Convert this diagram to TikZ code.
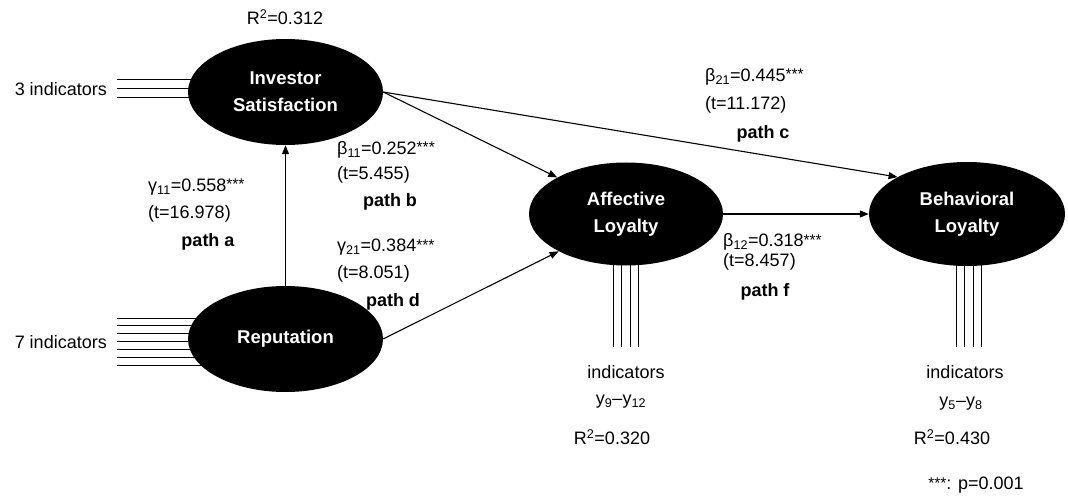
\documentclass[tikz,border=0pt]{standalone}
\usepackage{fontspec}
\setmainfont{Liberation Sans}
\usetikzlibrary{shapes.geometric,arrows.meta,backgrounds}
\newcommand\mystars{\raisebox{1.5pt}{\fontsize{15.5}{15.5}\selectfont ***}}
\begin{document}
\begin{tikzpicture}[x=1pt,y=-1pt,
  lv/.style={ellipse, fill=black, inner sep=0pt, text=white, font=\fontsize{18.5}{27}\selectfont\bfseries, align=center},
  lbl/.style={inner sep=0pt, font=\fontsize{18}{22}\selectfont},
  pth/.style={inner sep=0pt, font=\fontsize{18}{22}\selectfont\bfseries},
  arr/.style={-{Triangle[length=9pt,width=7pt]}, line width=1.1pt},
  ind/.style={line width=0.9pt}]
\useasboundingbox (0,0) rectangle (1068,497);

% latent variables
\node[lv, minimum width=195pt, minimum height=106pt] (IS) at (285.5,92) {Investor\\Satisfaction};
\node[lv, minimum width=195pt, minimum height=106pt] (REP) at (285.5,339) {Reputation};
\node[lv, minimum width=194pt, minimum height=103pt] (AL) at (626,214) {Affective\\Loyalty};
\node[lv, minimum width=196pt, minimum height=104pt] (BL) at (967,214) {Behavioral\\Loyalty};

% indicator lines
\begin{scope}[on background layer]
\foreach \y in {79,88,97} \draw[ind] (117,\y) -- (250,\y);
\foreach \k in {0,...,6} \draw[ind] (117,{318+7.9*\k}) -- (250,{318+7.9*\k});
\foreach \x in {613,621.5,630,638.5} \draw[ind] (\x,214) -- (\x,347);
\foreach \x in {956,964.5,973,981.5} \draw[ind] (\x,214) -- (\x,347);
\end{scope}

% paths
\draw[arr] (REP.north) -- (IS.south);
\draw[arr] (IS.east) -- (AL.152);
\draw[arr] (IS.east) -- (BL.152);
\draw[arr] (REP.east) -- (AL.209);
\draw[arr] (AL.east) -- (BL.west);

% indicator texts
\node[lbl, anchor=base east] (t3) at (107,95.5) {3 indicators};
\node[lbl, anchor=base east] (t7) at (107,348.5) {7 indicators};
\node[lbl, anchor=base] (ial) at (626,378.5) {indicators};
\node[lbl, anchor=base] (yal) at (621,404.5) {y\textsubscript{9}–y\textsubscript{12}};
\node[lbl, anchor=base] (ibl) at (965,378.5) {indicators};
\node[lbl, anchor=base] (ybl) at (961,406.5) {y\textsubscript{5}–y\textsubscript{8}};

% R squared
\node[lbl, anchor=base] (r1) at (285,24.5) {R\textsuperscript{2}=0.312};
\node[lbl, anchor=base] (r2) at (612,444.5) {R\textsuperscript{2}=0.320};
\node[lbl, anchor=base] (r3) at (952,444.5) {R\textsuperscript{2}=0.430};
\node[lbl, anchor=base] (pv) at (976,489.5) {\mystars: p=0.001};

% path a
\node[lbl, anchor=base west] (ga1) at (148,191.5) {γ\textsubscript{11}=0.558\mystars};
\node[lbl, anchor=base west] (ga2) at (148,218.5) {(t=16.978)};
\node[pth, anchor=base] (pa) at (208,246.5) {path a};

% path b
\node[lbl, anchor=base west] (gb1) at (337,154.5) {β\textsubscript{11}=0.252\mystars};
\node[lbl, anchor=base west] (gb2) at (337,179.5) {(t=5.455)};
\node[pth, anchor=base] (pb) at (390,206.5) {path b};

% path d
\node[lbl, anchor=base west] (gd1) at (337,251.5) {γ\textsubscript{21}=0.384\mystars};
\node[lbl, anchor=base west] (gd2) at (337,278.5) {(t=8.051)};
\node[pth, anchor=base] (pd) at (393,306.5) {path d};

% path c
\node[lbl, anchor=base west] (gc1) at (705,81.5) {β\textsubscript{21}=0.445\mystars};
\node[lbl, anchor=base west] (gc2) at (705,109.5) {(t=11.172)};
\node[pth, anchor=base] (pc) at (763,138.5) {path c};

% path f
\node[lbl, anchor=base west] (gf1) at (723,246.5) {β\textsubscript{12}=0.318\mystars};
\node[lbl, anchor=base west] (gf2) at (723,266.5) {(t=8.457)};
\node[pth, anchor=base] (pf) at (765,296.5) {path f};
\end{tikzpicture}
\end{document}
